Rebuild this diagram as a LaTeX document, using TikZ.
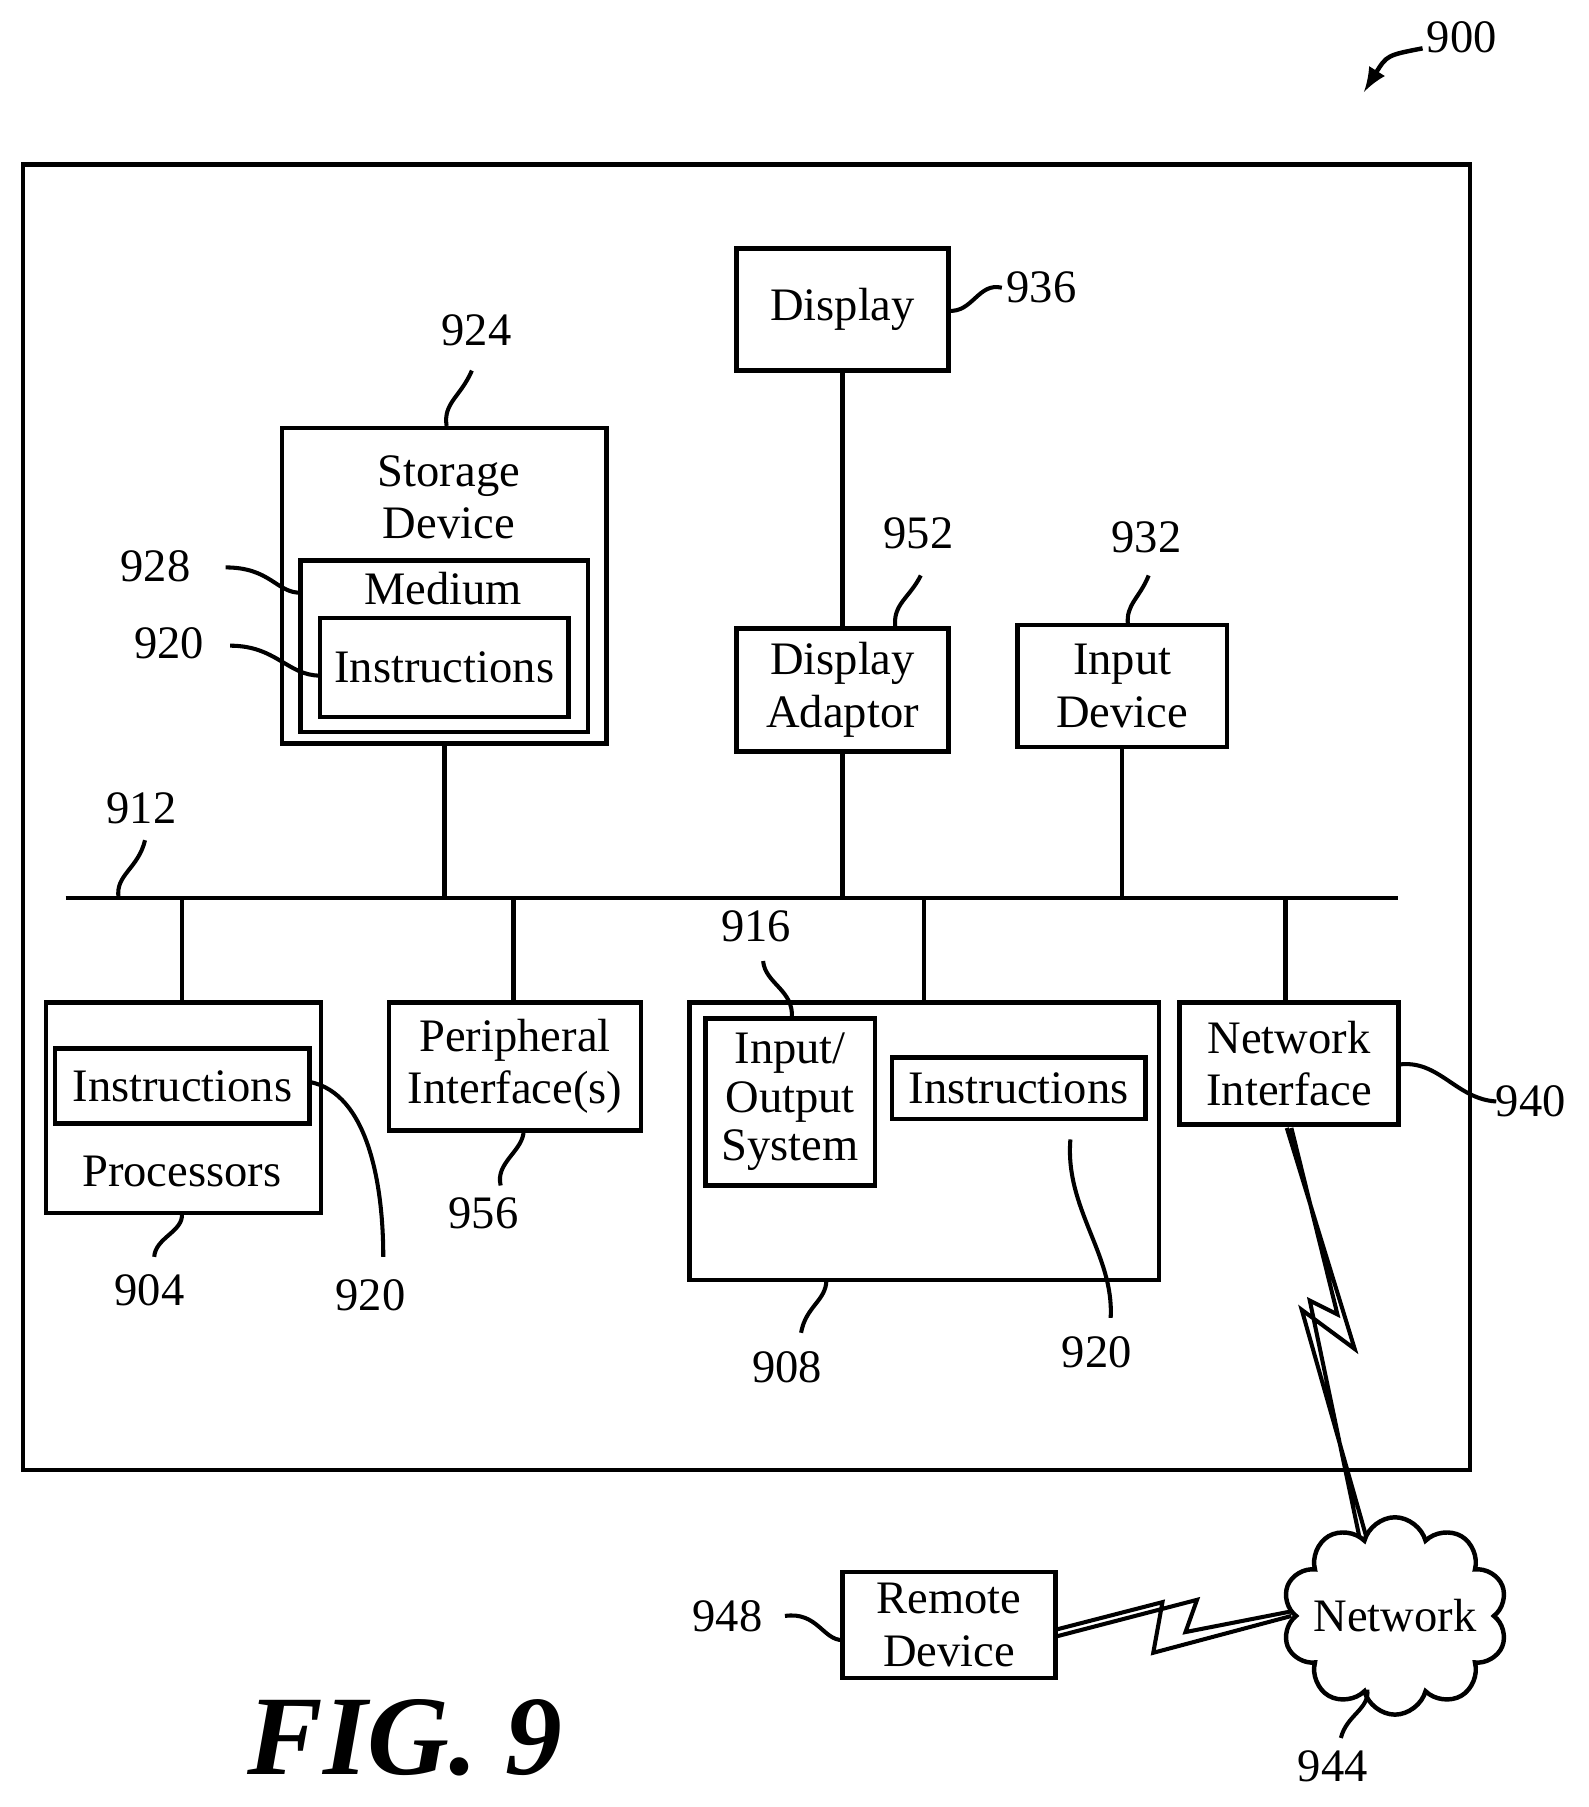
\documentclass[tikz,border=0pt]{standalone}
\usepackage{fontspec}
\setmainfont{Liberation Serif}
\usetikzlibrary{shapes.symbols}
\tikzstyle{box}=[draw,line width=1.1pt,inner sep=0pt,align=center,font=\fontsize{11.5}{13}\selectfont]
\tikzstyle{bus}=[draw,line width=1.1pt]
\tikzstyle{lead}=[draw,line width=1pt]
\tikzstyle{num}=[font=\fontsize{11.5}{13}\selectfont,inner sep=1pt]
\begin{document}
\begin{tikzpicture}[x=0.01cm,y=-0.01cm]
    \useasboundingbox (0,0) rectangle (1380,1570);
    \draw[line width=1.1pt] (20,143) rectangle (1277,1277);
    % upper boxes
        \node[box,minimum width=1.84cm,minimum height=1.06cm] (disp) at (732,269) {Display};
        \node[box,minimum width=2.82cm,minimum height=2.74cm] (stor) at (386,509) {};
        \node[box,minimum width=2.5cm,minimum height=1.49cm] (med) at (386,561.5) {};
        \node[box,minimum width=2.16cm,minimum height=0.86cm] (sins) at (386,580) {Instructions};
        \node[box,draw=none] at (390,432) {Storage\\[0pt]Device};
        \node[box,draw=none] at (385,511) {Medium};
        \node[box,minimum width=1.84cm,minimum height=1.07cm] (adap) at (732,599.5) {Display\\[0pt]Adaptor};
        \node[box,minimum width=1.82cm,minimum height=1.06cm] (inp) at (975,596) {Input\\[0pt]Device};
    % bus
        \coordinate (bl) at (57,780);
        \coordinate (br) at (1215,780);
        \path[bus] (bl) -- (br);
        \path[bus] (disp) -- (adap);
        \path[bus] (adap.south) -- (adap.south |- bl);
        \path[bus] (stor.south) -- (stor.south |- bl);
        \path[bus] (inp.south) -- (inp.south |- bl);
    % lower boxes
        \node[box,minimum width=2.39cm,minimum height=1.83cm] (proc) at (159.5,962.5) {};
        \node[box,minimum width=2.21cm,minimum height=0.65cm] (pins) at (158.5,943.5) {Instructions};
        \node[box,draw=none] at (158,1018) {Processors};
        \node[box,minimum width=2.19cm,minimum height=1.11cm] (peri) at (447.5,926.5) {Peripheral\\[0pt]Interface(s)};
        \node[box,minimum width=4.08cm,minimum height=2.41cm] (mem) at (803,991.5) {};
        \node[box,minimum width=1.47cm,minimum height=1.45cm] (ios) at (686.5,957.5) {Input/\\[-1pt]Output\\[-1pt]System};
        \node[box,minimum width=2.2cm,minimum height=0.53cm] (mins) at (885,945.5) {Instructions};
        \node[box,minimum width=1.9cm,minimum height=1.06cm] (nic) at (1120,924) {Network\\[0pt]Interface};
        \path[bus] (proc.north -| 158,0) -- (158,780);
        \path[bus] (peri.north -| 446,0) -- (446,780);
        \path[bus] (mem.north) -- (mem.north |- bl);
        \path[bus] (nic.north -| 1117,0) -- (1117,780);
    % outside
        \node[box,minimum width=1.85cm,minimum height=0.92cm] (rem) at (824.5,1412) {Remote\\[0pt]Device};
        \node[cloud,draw,line width=1.1pt,cloud puffs=10,aspect=1.25,font=\fontsize{11.5}{13}\selectfont,inner xsep=-0.1cm,inner ysep=-0.01cm] (net) at (1212,1404) {Network};
        \draw[line width=1pt] (1118,980) -- (1177,1172) -- (1131,1138) -- (1187,1335)
            (1122,980) -- (1162,1142) -- (1138,1130) -- (1181,1335);
        \draw[line width=1pt] (917,1422) -- (1040,1390) -- (1030,1418) -- (1122,1400)
            (917,1416) -- (1010,1392) -- (1002,1436) -- (1122,1404);
    % reference numerals
        \node[num] (n900) at (1270,32) {900};
        \draw[line width=1.1pt,->,>=latex] (1236,42) .. controls (1205,48) .. (1185,80);
        \node[num] (n936) at (905,250) {936};
        \path[lead] (n936.west) .. controls (850,245) and (845,272) .. (824,270);
        \node[num] (n924) at (414,287) {924};
        \path[lead] (410,322) .. controls (400,345) and (385,350) .. (388,370);
        \node[num] (n928) at (135,492) {928};
        \path[lead] (196,493) .. controls (235,493) and (240,515) .. (261,515);
        \node[num] (n920a) at (147,559) {920};
        \path[lead] (200,561) .. controls (240,561) and (250,587) .. (278,587);
        \node[num] (n952) at (798,463) {952};
        \path[lead] (800,500) .. controls (790,520) and (775,525) .. (778,546);
        \node[num] (n932) at (996,467) {932};
        \path[lead] (998,500) .. controls (990,520) and (978,525) .. (980,543);
        \node[num] (n912) at (123,702) {912};
        \path[lead] (126,730) .. controls (120,755) and (100,760) .. (103,780);
        \node[num] (n904) at (130,1121) {904};
        \path[lead] (134,1092) .. controls (135,1075) and (160,1070) .. (158,1054);
        \node[num] (n920b) at (322,1125) {920};
        \path[lead] (269,940) .. controls (320,950) and (333,1030) .. (333,1092);
        \node[num] (n956) at (420,1054) {956};
        \path[lead] (435,1030) .. controls (430,1010) and (455,1000) .. (455,982);
        \node[num] (n916) at (657,805) {916};
        \path[lead] (663,835) .. controls (665,855) and (690,860) .. (688,885);
        \node[num] (n920c) at (953,1175) {920};
        \path[lead] (930,990) .. controls (925,1050) and (968,1090) .. (965,1145);
        \node[num] (n908) at (684,1188) {908};
        \path[lead] (696,1158) .. controls (700,1135) and (718,1130) .. (718,1112);
        \node[num] (n940) at (1330,957) {940};
        \path[lead] (1215,925) .. controls (1250,920) and (1265,955) .. (1300,957);
        \node[num] (n948) at (632,1404) {948};
        \path[lead] (682,1404) .. controls (710,1400) and (715,1425) .. (732,1425);
        \node[num] (n944) at (1158,1535) {944};
        \path[lead] (1165,1510) .. controls (1170,1490) and (1190,1485) .. (1188,1468);
    \node[font=\fontsize{28}{32}\selectfont\bfseries\itshape] (fig) at (352,1510) {FIG. 9};
\end{tikzpicture}
\end{document}
